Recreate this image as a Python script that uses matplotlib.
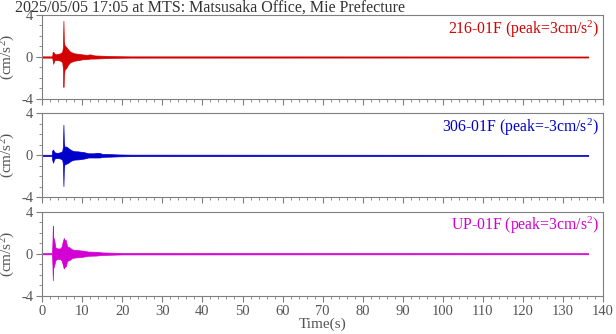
import numpy as np
import matplotlib
matplotlib.use("Agg")
import matplotlib.pyplot as plt
from matplotlib.ticker import MultipleLocator

plt.rcParams['font.family'] = ['Liberation Serif', 'DejaVu Serif']
plt.rcParams['mathtext.fontset'] = 'custom'
plt.rcParams['mathtext.rm'] = 'Liberation Serif'
plt.rcParams['mathtext.it'] = 'Liberation Serif'
plt.rcParams['axes.unicode_minus'] = False

title = "2025/05/05 17:05 at MTS: Matsusaka Office, Mie Prefecture"
channel_names = ["216-01F", "306-01F", "UP-01F"]
peaks = [3, -3, 3]
colors = ["#d20000", "#0000c8", "#d200d2"]

# envelope of each trace: time (s), upper, lower (cm/s2)
t_216 = [0, 2.5, 2.6, 2.75, 2.9, 3.1, 3.5, 4.0, 4.5, 5.0, 5.2, 5.3, 5.4, 5.6, 6.0, 6.5, 7.0, 8.0, 9.0, 10, 11, 12, 13, 15, 18, 22, 136.3]
hi_216 = [0.06, 0.06, 0.45, 0.5, 0.4, 0.3, 0.25, 0.3, 0.35, 0.5, 1.0, 3.45, 1.5, 1.1, 0.95, 0.7, 0.5, 0.35, 0.3, 0.25, 0.2, 0.25, 0.15, 0.12, 0.08, 0.06, 0.05]
lo_216 = [-0.06, -0.06, -0.3, -0.65, -0.45, -0.3, -0.3, -0.3, -0.35, -0.5, -1.2, -2.85, -1.8, -1.2, -1.05, -0.7, -0.5, -0.35, -0.3, -0.22, -0.2, -0.15, -0.15, -0.12, -0.08, -0.06, -0.05]

t_306 = [0, 2.4, 2.5, 2.7, 2.9, 3.1, 3.5, 4.0, 4.5, 5.0, 5.2, 5.3, 5.4, 5.6, 6.0, 6.5, 7.2, 8.0, 9.0, 10.5, 11.5, 13.0, 13.6, 14.4, 15.0, 17, 19, 22, 136.3]
hi_306 = [0.06, 0.06, 0.45, 0.55, 0.4, 0.3, 0.25, 0.25, 0.3, 0.4, 0.9, 2.92, 1.2, 0.8, 0.85, 0.7, 0.5, 0.4, 0.38, 0.3, 0.2, 0.2, 0.25, 0.22, 0.14, 0.12, 0.09, 0.07, 0.05]
lo_306 = [-0.06, -0.06, -0.4, -0.7, -0.45, -0.3, -0.25, -0.25, -0.3, -0.4, -0.9, -2.92, -1.2, -0.8, -0.8, -0.7, -0.5, -0.4, -0.38, -0.3, -0.2, -0.2, -0.2, -0.2, -0.14, -0.12, -0.09, -0.07, -0.05]

t_up = [0, 2.45, 2.55, 2.65, 2.75, 3.0, 3.3, 3.8, 4.5, 4.9, 5.1, 5.4, 5.6, 5.9, 6.2, 6.8, 7.5, 8.5, 10, 11.5, 13.4, 15, 17, 20, 136.3]
hi_up = [0.06, 0.06, 1.0, 2.64, 1.6, 1.3, 0.6, 0.5, 0.5, 0.7, 1.12, 1.5, 1.29, 1.3, 0.7, 0.6, 0.4, 0.35, 0.3, 0.2, 0.18, 0.12, 0.1, 0.07, 0.05]
lo_up = [-0.06, -0.06, -1.0, -2.54, -1.4, -1.1, -0.6, -0.5, -0.5, -0.7, -1.0, -1.41, -1.25, -1.2, -0.7, -0.6, -0.4, -0.35, -0.3, -0.2, -0.18, -0.12, -0.1, -0.07, -0.05]

env_t = [t_216, t_306, t_up]
env_hi = [hi_216, hi_306, hi_up]
env_lo = [lo_216, lo_306, lo_up]

fig = plt.figure(figsize=(6.16, 3.34), dpi=100)
left, width, height = 0.0685, 0.9105, 0.2515
bottoms = [0.7036, 0.409, 0.1147]
gray = "#7f7f7f"
tick_gray = "#555555"

for i in range(3):
    ax = fig.add_axes([left, bottoms[i], width, height])
    ax.fill_between(env_t[i], env_lo[i], env_hi[i], color=colors[i], lw=0.5, edgecolor=colors[i])
    ax.set_xlim(0, 140)
    ax.set_ylim(-4, 4)
    ax.set_yticks([-4, 0, 4])
    ax.yaxis.set_minor_locator(MultipleLocator(1))
    ax.xaxis.set_major_locator(MultipleLocator(10))
    ax.xaxis.set_minor_locator(MultipleLocator(2))
    for s in ax.spines.values():
        s.set_color(gray)
        s.set_linewidth(0.8)
    ax.tick_params(which='both', direction='out', colors=gray, labelcolor=tick_gray,
                   labelsize=10.5, top=False, right=False, pad=2)
    ax.tick_params(which='major', length=4.5, width=0.8)
    ax.tick_params(which='minor', length=2.5, width=0.6)
    if i < 2:
        ax.set_xticklabels([])
    ax.set_ylabel("(cm/s$^2$)", fontsize=11, color=tick_gray, labelpad=3)
    ax.text(0.993, 0.96, "%s (peak=%dcm/s$^2$)" % (channel_names[i], peaks[i]),
            transform=ax.transAxes, ha='right', va='top', color=colors[i], fontsize=11.3)
    if i == 2:
        ax.set_xlabel("Time(s)", fontsize=11, color=tick_gray, labelpad=0)

fig.text(0.024, 1.0, title, ha='left', va='top', fontsize=11.5, color="#333333")

fig.savefig("out.png", dpi=100)
